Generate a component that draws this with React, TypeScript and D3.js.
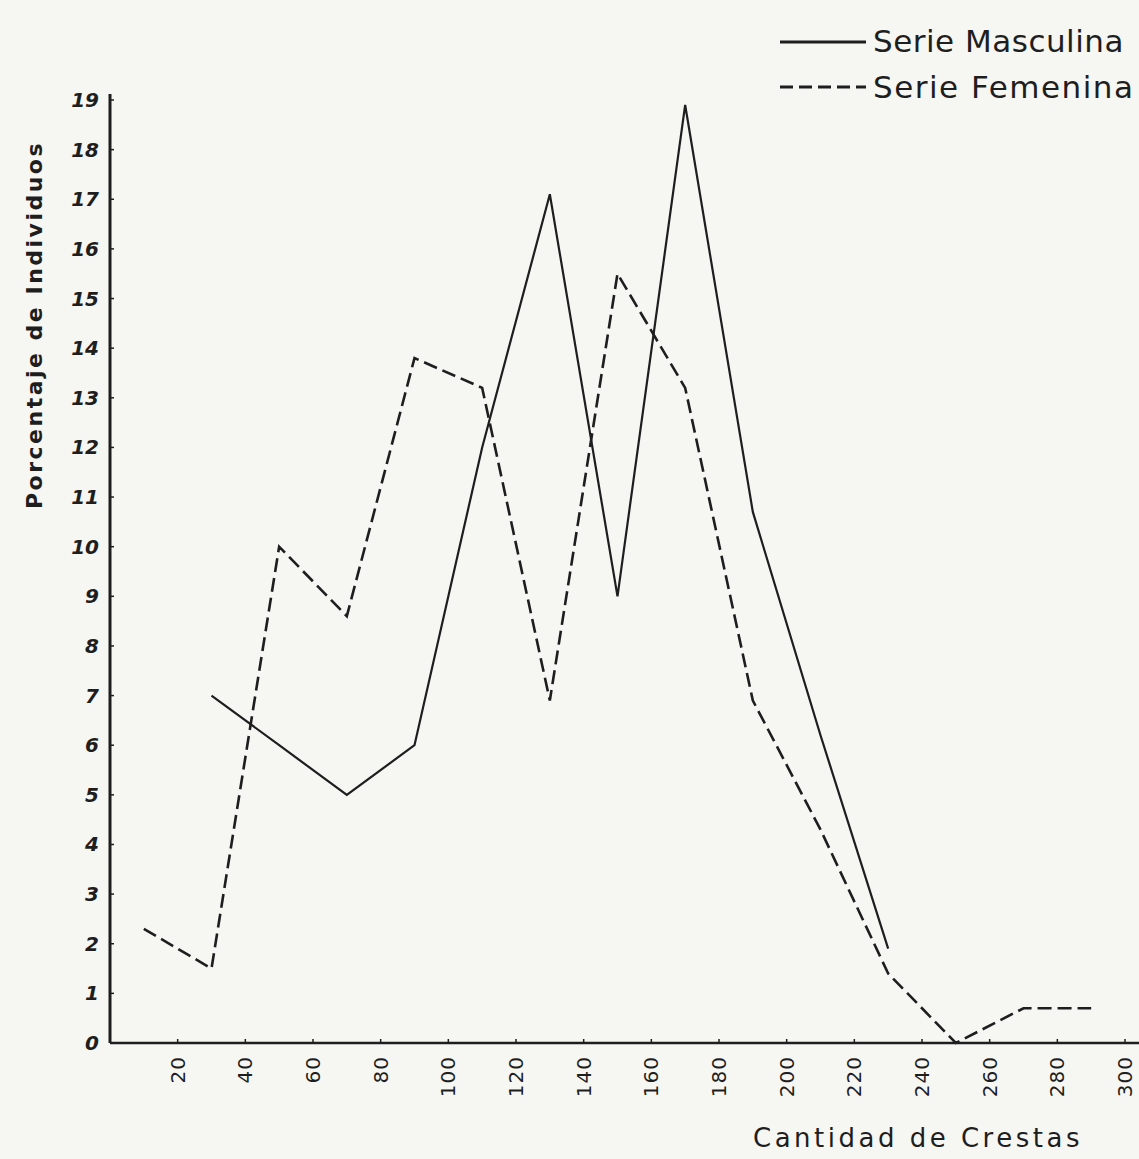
import React from 'react';
import * as d3 from 'd3';

// class midpoints (cantidad de crestas)
const maleX = [30, 50, 70, 90, 110, 130, 150, 170, 190, 210, 230];
const maleY = [7.0, 6.0, 5.0, 6.0, 12.0, 17.1, 9.0, 18.9, 10.7, 6.2, 1.9];
const femaleX = [10, 30, 50, 70, 90, 110, 130, 150, 170, 190, 210, 230, 250, 270, 290];
const femaleY = [2.3, 1.5, 10.0, 8.6, 13.8, 13.2, 6.9, 15.5, 13.2, 6.9, 4.3, 1.4, 0, 0.7, 0.7];
const xTicks = [20, 40, 60, 80, 100, 120, 140, 160, 180, 200, 220, 240, 260, 280, 300];
const yTicks = [0, 1, 2, 3, 4, 5, 6, 7, 8, 9, 10, 11, 12, 13, 14, 15, 16, 17, 18, 19];

const W = 1139;
const H = 1159;
const ink = '#1e1e1e';
const hand = '"DejaVu Sans", sans-serif';

export default function App() {
  const x = d3.scaleLinear().domain([0, 300]).range([110, 1125]);
  const y = d3.scaleLinear().domain([0, 19]).range([1043, 100]);

  const line = d3
    .line<[number, number]>()
    .x((d) => x(d[0]))
    .y((d) => y(d[1]));

  const male = maleX.map((v, i) => [v, maleY[i]] as [number, number]);
  const female = femaleX.map((v, i) => [v, femaleY[i]] as [number, number]);

  return (
    <svg
      width={W}
      height={H}
      style={{ position: 'absolute', left: 0, top: 0, background: '#f6f6f3' }}
    >
      <rect width={W} height={H} fill="#f6f6f3" />

      {/* axes */}
      <line x1={x(0)} x2={W} y1={y(0)} y2={y(0)} stroke={ink} strokeWidth={2.5} />
      <line x1={x(0)} x2={x(0)} y1={y(0)} y2={y(19) - 6} stroke={ink} strokeWidth={3} />

      {xTicks.map((t) => (
        <g key={t} transform={`translate(${x(t)},${y(0)})`}>
          <line y1={-4} y2={0} stroke={ink} strokeWidth={1.5} />
          <text
            transform="translate(7,13) rotate(-90)"
            textAnchor="end"
            fontFamily={hand}
            fontSize={20}
            letterSpacing={1}
            fill={ink}
          >
            {t}
          </text>
        </g>
      ))}

      {yTicks.map((t) => (
        <g key={t} transform={`translate(${x(0)},${y(t)})`}>
          <line x1={0} x2={4} stroke={ink} strokeWidth={1.5} />
          <text
            x={-11}
            dy="0.35em"
            textAnchor="end"
            fontFamily={hand}
            fontStyle="italic"
            fontWeight="bold"
            fontSize={20}
            fill={ink}
          >
            {t}
          </text>
        </g>
      ))}

      {/* series */}
      <path d={line(male) ?? ''} fill="none" stroke={ink} strokeWidth={2.2} strokeLinejoin="miter" />
      <path
        d={line(female) ?? ''}
        fill="none"
        stroke={ink}
        strokeWidth={2.6}
        strokeDasharray="14 6"
      />

      {/* axis titles */}
      <text
        transform="translate(42,325) rotate(-90)"
        textAnchor="middle"
        fontFamily={hand}
        fontWeight="bold"
        fontSize={22}
        letterSpacing={2.5}
        fill={ink}
      >
        Porcentaje de Individuos
      </text>
      <text
        x={918}
        y={1147}
        textAnchor="middle"
        fontFamily={hand}
        fontSize={26}
        letterSpacing={3.5}
        fill={ink}
      >
        Cantidad de Crestas
      </text>

      {/* legend */}
      <line x1={780} x2={866} y1={42} y2={42} stroke={ink} strokeWidth={3} />
      <text x={873} y={52} fontFamily={hand} fontSize={31} letterSpacing={0.5} fill={ink}>
        Serie Masculina
      </text>
      <line x1={780} x2={866} y1={87} y2={87} stroke={ink} strokeWidth={3} strokeDasharray="13 6" />
      <text x={873} y={98} fontFamily={hand} fontSize={31} letterSpacing={1.5} fill={ink}>
        Serie Femenina
      </text>
    </svg>
  );
}
